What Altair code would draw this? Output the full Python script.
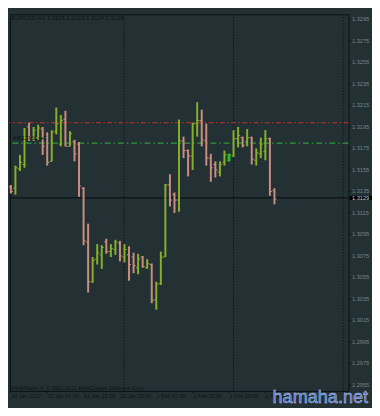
import altair as alt
import pandas as pd

# ---- data (EURUSD, H1 bars) ----
opens = [1.3139, 1.3138, 1.3156, 1.3160, 1.3195, 1.3184, 1.3185, 1.3193, 1.3185, 1.3163,
         1.3191, 1.3179, 1.3202, 1.3177, 1.3181, 1.3179, 1.3138, 1.3088, 1.3051, 1.3072,
         1.3076, 1.3088, 1.3079, 1.3081, 1.3087, 1.3074, 1.3076, 1.3074, 1.3064, 1.3074,
         1.3064, 1.3067, 1.3034, 1.3049, 1.3074, 1.3141, 1.3132, 1.3127, 1.3182, 1.3173,
         1.3168, 1.3198, 1.3201, 1.3182, 1.3166, 1.3160, 1.3153, 1.3162, 1.3164, 1.3168,
         1.3184, 1.3185, 1.3181, 1.3185, 1.3164, 1.3170, 1.3172, 1.3184, 1.3136]
highs = [1.3141, 1.3159, 1.3169, 1.3194, 1.3199, 1.3195, 1.3197, 1.3195, 1.3190, 1.3192,
         1.3213, 1.3206, 1.3210, 1.3191, 1.3183, 1.3181, 1.3139, 1.3105, 1.3074, 1.3086,
         1.3085, 1.3091, 1.3086, 1.3090, 1.3089, 1.3086, 1.3084, 1.3078, 1.3077, 1.3075,
         1.3072, 1.3068, 1.3051, 1.3079, 1.3142, 1.3151, 1.3134, 1.3202, 1.3186, 1.3174,
         1.3199, 1.3218, 1.3211, 1.3198, 1.3170, 1.3163, 1.3163, 1.3173, 1.3170, 1.3192,
         1.3195, 1.3186, 1.3193, 1.3186, 1.3175, 1.3185, 1.3192, 1.3185, 1.3138]
lows = [1.3133, 1.3132, 1.3154, 1.3157, 1.3182, 1.3182, 1.3183, 1.3169, 1.3159, 1.3163,
        1.3188, 1.3177, 1.3177, 1.3177, 1.3163, 1.3130, 1.3085, 1.3041, 1.3050, 1.3067,
        1.3063, 1.3077, 1.3074, 1.3076, 1.3070, 1.3069, 1.3052, 1.3059, 1.3058, 1.3064,
        1.3063, 1.3031, 1.3025, 1.3048, 1.3074, 1.3121, 1.3115, 1.3116, 1.3166, 1.3149,
        1.3155, 1.3186, 1.3177, 1.3159, 1.3144, 1.3148, 1.3149, 1.3159, 1.3163, 1.3167,
        1.3176, 1.3176, 1.3177, 1.3160, 1.3159, 1.3166, 1.3164, 1.3131, 1.3123]
closes = [1.3135, 1.3157, 1.3162, 1.3185, 1.3186, 1.3192, 1.3194, 1.3177, 1.3162, 1.3190,
          1.3198, 1.3201, 1.3177, 1.3189, 1.3170, 1.3140, 1.3089, 1.3051, 1.3071, 1.3078,
          1.3083, 1.3079, 1.3082, 1.3088, 1.3075, 1.3081, 1.3067, 1.3066, 1.3072, 1.3065,
          1.3068, 1.3034, 1.3049, 1.3074, 1.3141, 1.3127, 1.3127, 1.3182, 1.3173, 1.3168,
          1.3198, 1.3201, 1.3183, 1.3166, 1.3157, 1.3155, 1.3160, 1.3169, 1.3169, 1.3184,
          1.3187, 1.3178, 1.3185, 1.3165, 1.3171, 1.3179, 1.3184, 1.3135, 1.3128]

x_tick_index = [0, 8, 16, 24, 32, 40, 48, 56]
x_tick_labels = ["30 Jan 2012", "31 Jan 07:00", "31 Jan 15:00", "31 Jan 23:00",
                 "1 Feb 07:00", "1 Feb 15:00", "1 Feb 23:00", "2 Feb 07:00"]
y_tick_values = [1.2955, 1.2975, 1.2995, 1.3015, 1.3035, 1.3055, 1.3075, 1.3095, 1.3115,
                 1.3135, 1.3155, 1.3175, 1.3195, 1.3215, 1.3235, 1.3255, 1.3275, 1.3295]
y_tick_labels = ["1.2955", "1.2975", "1.2995", "1.3015", "1.3035", "1.3055", "1.3075",
                 "1.3095", "1.3115", "1.3135", "1.3155", "1.3175", "1.3195", "1.3215",
                 "1.3235", "1.3255", "1.3275", "1.3295"]
day_separators = [24.9, 49.0, 73.1]
arrow_bars = [48]
stop_level = [1.3199]
order_level = [1.3180]
bid_level = [1.3129]
bid_label = ["1.3129"]
header_text = ["EURUSD,H1  1.3126 1.3129 1.3124 1.3129"]
footer_text = ["MetaTrader 4, \u00a9 2001-2011 MetaQuotes Software Corp."]
order_text = ["#4813761 sell"]
watermark = ["hamaha.net"]

# ---- styling ----
BG = "#233134"
BULL = "#86b02c"
BEAR = "#cc8c7f"
DARK = "#0d1416"
YTXT = "#738384"
FONT = "Liberation Sans"
W, H = 346, 385

df = pd.DataFrame({"i": list(range(len(opens))), "open": opens, "high": highs,
                   "low": lows, "close": closes})
df["dir"] = ["up" if c >= o else "down" for o, c in zip(opens, closes)]

xs = alt.Scale(domain=[-0.2, 74.3], nice=False, zero=False)
ys = alt.Scale(domain=[1.29494, 1.32998], nice=False, zero=False)
col = alt.Color("dir:N", scale=alt.Scale(domain=["up", "down"], range=[BULL, BEAR]), legend=None)

grid = alt.Chart(pd.DataFrame({"g": day_separators})).mark_rule(
    color="#0e1517", strokeDash=[1.5, 1.5], strokeWidth=1
).encode(x=alt.X("g:Q", scale=xs, axis=None))

red = alt.Chart(pd.DataFrame({"p": stop_level})).mark_rule(
    color="#a3302b", strokeDash=[5, 2.5, 1.5, 2.5], strokeWidth=1.2
).encode(y=alt.Y("p:Q", scale=ys, axis=None))

green = alt.Chart(pd.DataFrame({"p": order_level})).mark_rule(
    color="#2f9a3a", strokeDash=[6, 3, 1.5, 3], strokeWidth=1.2
).encode(y=alt.Y("p:Q", scale=ys, axis=None))

bidline = alt.Chart(pd.DataFrame({"p": bid_level})).mark_rule(
    color="#080c0d", strokeWidth=1
).encode(y=alt.Y("p:Q", scale=ys, axis=None))

hl = alt.Chart(df).mark_rule(strokeWidth=2).encode(
    x=alt.X("i:Q", scale=xs, axis=None),
    y=alt.Y("low:Q", scale=ys, axis=None),
    y2="high:Q",
    color=col,
)
op = alt.Chart(df).transform_calculate(xa="datum.i - 0.45").mark_rule(strokeWidth=1).encode(
    x=alt.X("xa:Q", scale=xs, axis=None), x2="i:Q",
    y=alt.Y("open:Q", scale=ys, axis=None), color=col,
)
cl = alt.Chart(df).transform_calculate(xb="datum.i + 0.45").mark_rule(strokeWidth=1).encode(
    x=alt.X("i:Q", scale=xs, axis=None), x2="xb:Q",
    y=alt.Y("close:Q", scale=ys, axis=None), color=col,
)
arrow = alt.Chart(df).transform_filter(
    alt.FieldOneOfPredicate(field="i", oneOf=arrow_bars)
).mark_rule(strokeWidth=3, color="#1fc21f").encode(
    x=alt.X("i:Q", scale=xs, axis=None),
    y=alt.Y("low:Q", scale=ys, axis=None), y2="high:Q",
)

# price axis (right) drawn from the tick arrays
ydf = pd.DataFrame({"v": y_tick_values, "t": y_tick_labels})
yticks = alt.Chart(ydf).mark_rule(color=DARK, strokeWidth=1).encode(
    x=alt.value(W), x2=alt.value(W + 2.5), y=alt.Y("v:Q", scale=ys, axis=None)
)
ylabels = alt.Chart(ydf).mark_text(
    align="left", baseline="middle", fontSize=5.8, font=FONT, color=YTXT
).encode(x=alt.value(W + 3.5), y=alt.Y("v:Q", scale=ys, axis=None), text="t:N")

# time axis (bottom)
xdf = pd.DataFrame({"i": x_tick_index, "t": x_tick_labels})
xticks = alt.Chart(xdf).mark_rule(color=DARK, strokeWidth=1).encode(
    x=alt.X("i:Q", scale=xs, axis=None), y=alt.value(H), y2=alt.value(H + 2)
)
xlabels = alt.Chart(xdf).mark_text(
    align="left", baseline="middle", fontSize=5.5, font=FONT, color=DARK, dx=0.5
).encode(x=alt.X("i:Q", scale=xs, axis=None), y=alt.value(H + 5.5), text="t:N")

bid_df = pd.DataFrame({"p": bid_level, "t": bid_label})
box = alt.Chart(bid_df).transform_calculate(
    lo="datum.p - 0.00019", hi="datum.p + 0.00019"
).mark_rect(color="#000000").encode(
    x=alt.value(W + 1), x2=alt.value(W + 24),
    y=alt.Y("lo:Q", scale=ys, axis=None), y2="hi:Q",
)
boxtxt = alt.Chart(bid_df).mark_text(
    align="left", baseline="middle", fontSize=5.8, font=FONT, color="#c5cfcf"
).encode(x=alt.value(W + 3.5), y=alt.Y("p:Q", scale=ys, axis=None), text="t:N")

header = alt.Chart(pd.DataFrame({"t": header_text})).mark_text(
    align="left", baseline="middle", fontSize=6, font=FONT, color=DARK
).encode(x=alt.value(1.5), y=alt.value(3.8), text="t:N")

footer = alt.Chart(pd.DataFrame({"t": footer_text})).mark_text(
    align="left", baseline="middle", fontSize=5.5, font=FONT, color=DARK
).encode(x=alt.value(1), y=alt.value(382.5), text="t:N")

olabel = alt.Chart(pd.DataFrame({"t": order_text})).mark_text(
    align="left", baseline="middle", fontSize=5.5, font=FONT, color=DARK
).encode(x=alt.value(3), y=alt.value(126.5), text="t:N")

wm = alt.Chart(pd.DataFrame({"t": watermark})).mark_text(
    align="right", baseline="alphabetic", fontSize=18.5, font=FONT, color="#4a72d4",
    stroke="#c9d5ef", strokeWidth=0.4
).encode(x=alt.value(366), y=alt.value(397.5), text="t:N")

chart = alt.layer(
    grid, red, green, bidline, hl, op, cl, arrow, yticks, ylabels, xticks, xlabels,
    header, footer, olabel, box, boxtxt, wm
).properties(
    width=W, height=H,
    padding={"left": 2, "top": 2, "right": 24, "bottom": 13},
    autosize=alt.AutoSizeParams(type="none"),
    background=BG,
).configure_view(stroke="#0c1214", strokeWidth=1)

chart.save("out.html", embed_options={"renderer": "svg", "actions": False})
